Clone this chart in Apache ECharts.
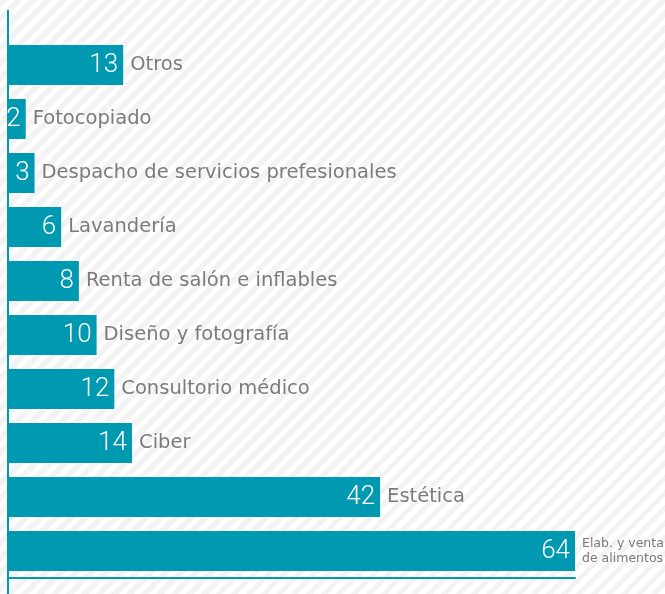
<!DOCTYPE html>
<html>
<head>
<meta charset="utf-8">
<script src="https://cdn.jsdelivr.net/npm/echarts@6/dist/echarts.min.js"></script>
<style>
  html, body { margin: 0; padding: 0; }
  #chart {
    width: 665px; height: 594px;
    background: repeating-linear-gradient(135deg, #f3f3f3 0px, #f3f3f3 5.3px, #ffffff 5.3px, #ffffff 10.6px);
  }
</style>
</head>
<body>
<div id="chart"></div>
<script>
// categorías y valores
var categories = ['Otros', 'Fotocopiado', 'Despacho de servicios prefesionales', 'Lavandería',
  'Renta de salón e inflables', 'Diseño y fotografía', 'Consultorio médico', 'Ciber', 'Estética',
  'Elab. y venta\nde alimentos'];
var values = [13, 2, 3, 6, 8, 10, 12, 14, 42, 64];

var teal = '#0099b2';
var chart = echarts.init(document.getElementById('chart'));

var option = {
  animation: false,
  grid: { left: 8, right: 90, top: 38, bottom: 16 },
  xAxis: {
    type: 'value', min: 0, max: 64,
    axisLine: { show: true, lineStyle: { color: teal, width: 2 } },
    axisTick: { show: false },
    axisLabel: { show: false },
    splitLine: { show: false }
  },
  yAxis: {
    type: 'category', data: categories, inverse: true,
    axisLine: { show: false },
    axisTick: { show: false },
    axisLabel: { show: false }
  },
  series: [{
    // barra con valor dentro
    type: 'bar',
    data: values,
    barWidth: 40,
    itemStyle: { color: teal },
    label: {
      show: true, position: 'insideRight', distance: 5,
      color: '#fff', fontSize: 26, fontWeight: 300, fontFamily: 'Roboto'
    },
    z: 3
  }, {
    // nombre a la derecha de la barra
    type: 'bar',
    data: values.map(function (v, i) {
      var d = { value: v };
      if (i === values.length - 1) {
        d.label = { fontSize: 12.5, lineHeight: 15 };
      }
      return d;
    }),
    barWidth: 40,
    barGap: '-100%',
    itemStyle: { color: 'transparent' },
    label: {
      show: true, position: 'right', distance: 7,
      color: '#7b7b7b', fontSize: 19.5, fontFamily: 'DejaVu Sans',
      formatter: function (p) { return categories[p.dataIndex]; }
    },
    z: 4
  }],
  graphic: [{
    type: 'line',
    shape: { x1: 8, y1: 10, x2: 8, y2: 594 },
    style: { stroke: teal, lineWidth: 2 }
  }]
};
chart.setOption(option);
</script>
</body>
</html>
